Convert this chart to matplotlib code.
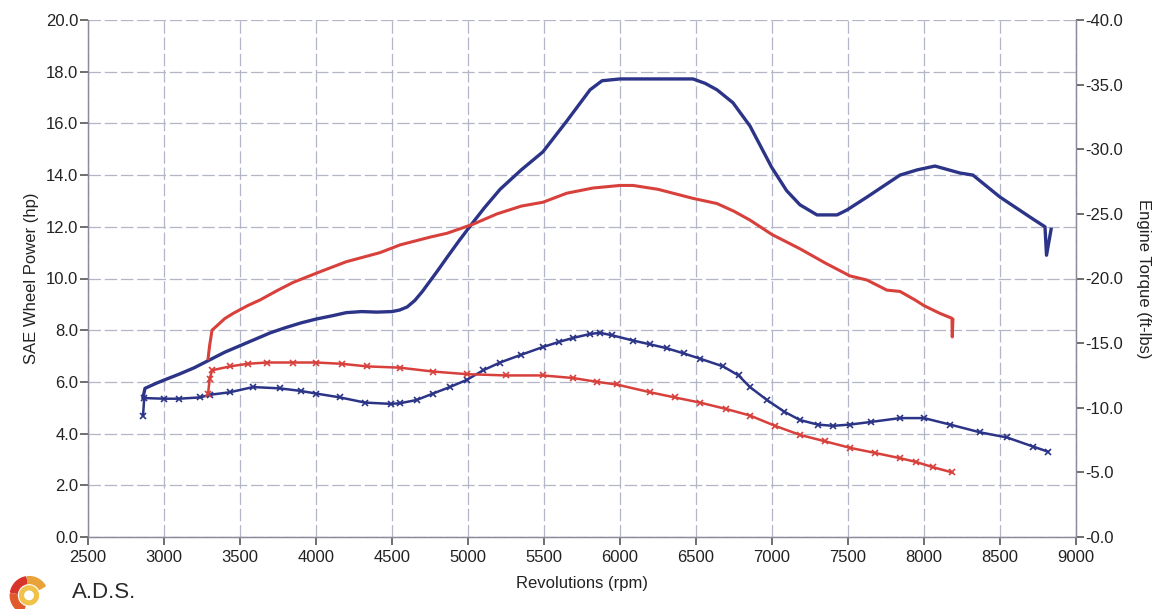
import numpy as np
import matplotlib
matplotlib.use("Agg")
import matplotlib.pyplot as plt
from matplotlib.patches import Wedge
from matplotlib.ticker import FuncFormatter, MultipleLocator

plt.rcParams['font.family'] = ['Liberation Sans', 'DejaVu Sans']

# SAE wheel power (hp), left axis
blue_power_rpm = [2862, 2875, 2950, 3000, 3100, 3200, 3300, 3400, 3500, 3600, 3700, 3800, 3900, 4000,
                  4100, 4200, 4300, 4400, 4500, 4550, 4600, 4650, 4700, 4750, 4800, 4860, 4940, 5030,
                  5110, 5211, 5350, 5493, 5651, 5803, 5882, 6000, 6200, 6480, 6560, 6638, 6743, 6855,
                  6998, 7096, 7184, 7296, 7428, 7493, 7625, 7842, 7954, 8072, 8237, 8322, 8500, 8717,
                  8796, 8806, 8836]
blue_power = [5.4, 5.75, 5.95, 6.07, 6.3, 6.55, 6.85, 7.15, 7.4, 7.65, 7.9, 8.1, 8.28, 8.43,
              8.55, 8.68, 8.72, 8.7, 8.72, 8.78, 8.9, 9.15, 9.5, 9.9, 10.3, 10.8, 11.45, 12.15,
              12.75, 13.45, 14.2, 14.9, 16.1, 17.3, 17.65, 17.72, 17.72, 17.72, 17.55, 17.3, 16.8, 15.9,
              14.3, 13.4, 12.85, 12.46, 12.46, 12.65, 13.15, 14.0, 14.2, 14.35, 14.08, 14.0, 13.15, 12.3,
              12.0, 10.9, 11.9]

red_power_rpm = [3290, 3300, 3316, 3400, 3455, 3550, 3632, 3750, 3850, 4026, 4200, 4421, 4553, 4750,
                 4862, 5033, 5191, 5350, 5493, 5650, 5822, 6000, 6086, 6250, 6480, 6638, 6750, 6855,
                 7000, 7184, 7350, 7513, 7625, 7756, 7842, 7941, 8000, 8105, 8184, 8186, 8190]
red_power = [6.9, 7.4, 8.0, 8.45, 8.65, 8.95, 9.17, 9.55, 9.85, 10.26, 10.65, 11.0, 11.3, 11.6,
             11.75, 12.1, 12.5, 12.8, 12.95, 13.3, 13.5, 13.6, 13.6, 13.45, 13.1, 12.9, 12.6, 12.26,
             11.7, 11.15, 10.6, 10.1, 9.94, 9.55, 9.5, 9.17, 8.95, 8.65, 8.46, 7.74, 8.4]

# engine torque (ft-lbs), right axis
blue_torque_rpm = [2862, 2870, 3000, 3100, 3237, 3300, 3434, 3585, 3763, 3900, 4000, 4158, 4322, 4493,
                   4553, 4662, 4770, 4880, 4991, 5100, 5211, 5350, 5493, 5600, 5691, 5800, 5868, 5950,
                   6086, 6200, 6309, 6420, 6526, 6678, 6780, 6855, 6967, 7080, 7184, 7300, 7401, 7513,
                   7650, 7842, 8000, 8171, 8368, 8546, 8717, 8816]
blue_torque = [-9.4, -10.75, -10.7, -10.7, -10.8, -11.0, -11.2, -11.6, -11.5, -11.3, -11.1, -10.8, -10.4, -10.3,
               -10.35, -10.6, -11.1, -11.6, -12.15, -12.9, -13.5, -14.1, -14.7, -15.1, -15.4, -15.7, -15.8, -15.6,
               -15.2, -14.9, -14.6, -14.2, -13.8, -13.2, -12.5, -11.6, -10.6, -9.7, -9.05, -8.7, -8.6, -8.7,
               -8.9, -9.2, -9.2, -8.7, -8.1, -7.7, -7.0, -6.6]

red_torque_rpm = [3290, 3300, 3316, 3434, 3550, 3677, 3850, 4000, 4170, 4335, 4553, 4770, 4991, 5250,
                  5493, 5691, 5850, 5978, 6197, 6360, 6526, 6700, 6855, 7020, 7184, 7350, 7513, 7680,
                  7842, 7950, 8059, 8184]
red_torque = [-11.1, -12.2, -12.9, -13.2, -13.4, -13.5, -13.5, -13.5, -13.4, -13.2, -13.1, -12.8, -12.6, -12.5,
              -12.5, -12.3, -12.0, -11.8, -11.2, -10.8, -10.4, -9.9, -9.4, -8.6, -7.9, -7.4, -6.9, -6.5,
              -6.1, -5.8, -5.4, -5.0]

BLUE = '#2c3488'
RED = '#d8403c'
GRID = '#b3b6c6'

fig = plt.figure(figsize=(11.61, 6.09), dpi=100)
ax = fig.add_axes([88 / 1161, 1 - 537 / 609, (1076 - 88) / 1161, (537 - 20) / 609])
ax2 = ax.twinx()

# power curves
ax.plot(blue_power_rpm, blue_power, color=BLUE, lw=2.4, solid_joinstyle='round', zorder=3)
ax.plot(red_power_rpm, red_power, color=RED, lw=2.2, solid_joinstyle='round', zorder=3)

# torque curves, with the crosses
ax2.plot(blue_torque_rpm, blue_torque, color=BLUE, lw=1.8, marker='x', ms=4, mew=1.2, zorder=3)
ax2.plot(red_torque_rpm, red_torque, color=RED, lw=1.8, marker='x', ms=4, mew=1.2, zorder=3)

ax.set_xlim(2500, 9000)
ax.set_ylim(0, 20)
ax2.set_ylim(0, -40)

ax.xaxis.set_major_locator(MultipleLocator(500))
ax.yaxis.set_major_locator(MultipleLocator(2))
ax2.yaxis.set_major_locator(MultipleLocator(5))
ax.yaxis.set_major_formatter(FuncFormatter(lambda v, p: f"{v:.1f}"))
ax2.yaxis.set_major_formatter(FuncFormatter(lambda v, p: f"-{abs(v):.1f}"))

ax.grid(True, color=GRID, lw=0.9, ls=(0, (10, 3)))
ax.set_axisbelow(True)

for a in (ax, ax2):
    a.tick_params(direction='out', length=6, width=1.2, color='#555555', labelsize=12,
                  labelcolor='#222222', pad=1)
    for s in a.spines.values():
        s.set_color('#8a8d99')
        s.set_linewidth(0.9)
    a.spines['top'].set_visible(False)
ax.tick_params(axis='x', pad=3)

ax.set_xlabel("Revolutions (rpm)", fontsize=12, color='#222222', labelpad=8)
ax.set_ylabel("SAE Wheel Power (hp)", fontsize=12, color='#222222', labelpad=5)
ax2.set_ylabel("Engine Torque (ft-lbs)", fontsize=12, color='#222222', rotation=-90, labelpad=20)

# A.D.S. logo at bottom left
logo = fig.add_axes([0.0, 0.0, 0.05, 0.07])
logo.set_xlim(-1.2, 1.2)
logo.set_ylim(-1.5, 1.0)
logo.set_aspect('equal')
logo.axis('off')
logo.add_patch(Wedge((0, -0.7), 1.1, 100, 170, width=0.4, color='#d9342b'))
logo.add_patch(Wedge((0, -0.7), 1.1, 30, 95, width=0.4, color='#e9a23a'))
logo.add_patch(Wedge((0, -0.7), 1.1, 175, 250, width=0.4, color='#e05a2c'))
logo.add_patch(Wedge((0, -0.7), 0.55, 0, 360, width=0.22, color='#f0c24a'))
fig.text(72 / 1161, 1 - 582 / 609, "A.D.S.", fontsize=16, color='#2a2a2a', va='top', ha='left')

fig.savefig("out.png", dpi=100)
